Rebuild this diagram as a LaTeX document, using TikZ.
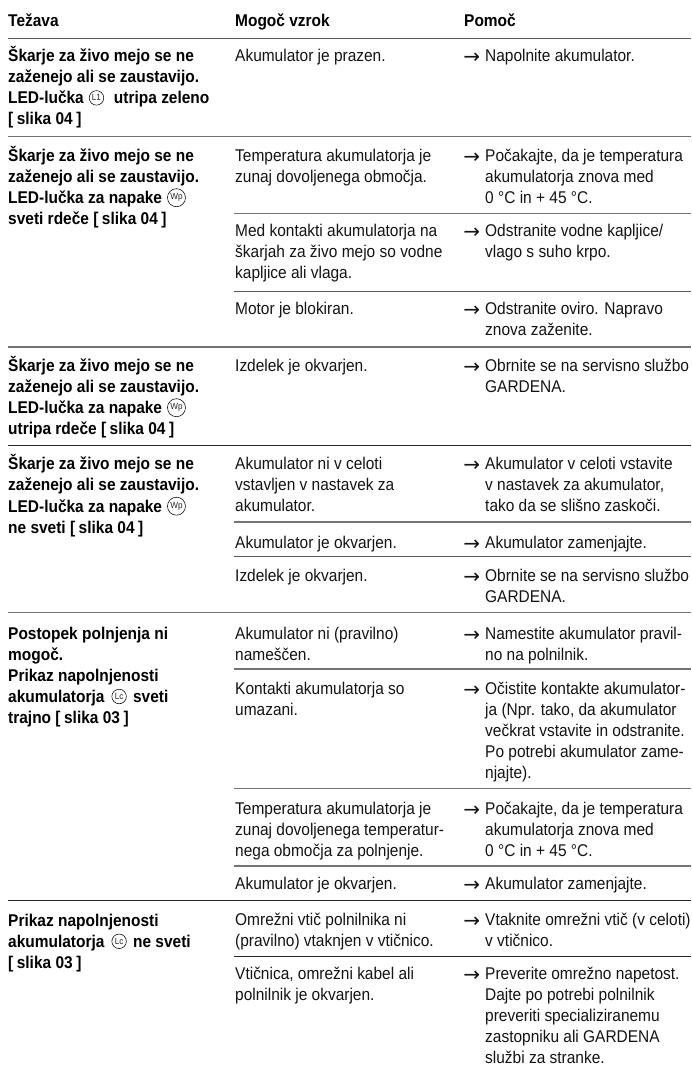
\documentclass[tikz,border=0pt]{standalone}
\usepackage{fontspec}
\setmainfont[FakeStretch=0.91]{Liberation Sans}
\newfontfamily\arrfont{DejaVu Sans}
\newcommand{\arr}{\leavevmode\llap{\raisebox{-2pt}{\arrfont\fontsize{20}{20}\selectfont→}\kern5pt}}
\newcommand{\tl}[1]{\begin{tabular}[t]{@{}l@{}}#1\end{tabular}}
\newcommand{\fig}[1]{{[}\kern3.5pt slika #1\kern3.5pt{]}}
\newcommand{\sym}[2][14.5pt]{\kern0.8pt\tikz[baseline=-5.8pt]\node[anchor=center,circle,draw=black,line width=0.55pt,inner sep=0pt,minimum size=#1,font=\fontsize{9}{9}\selectfont\mdseries,text=black!85]{#2};\kern0.5pt}
\tikzset{x=1pt,y=-1pt,
 cell/.style={anchor=base west,inner sep=0pt,text=black!92,
   font=\fontsize{17}{21.1}\selectfont},
 prob/.style={cell,text=black,font=\fontsize{17}{21.1}\selectfont\bfseries},
 head/.style={cell,text=black,font=\fontsize{17}{21.1}\selectfont\bfseries},
 ruledark/.style={line width=0.8pt,draw=black!85},
 rulemid/.style={line width=1pt,draw=black!65},
 rulegray/.style={line width=1.2pt,draw=black!55},
}
\begin{document}
\begin{tikzpicture}
\useasboundingbox[fill=white] (0,0) rectangle (691,1068);
% header
\node[head] (h1) at (8,27) {Težava};
\node[head] (h2) at (235,27) {Mogoč vzrok};
\node[head] (h3) at (464,27) {Pomoč};
% rules
\draw[rulemid] (8,38) -- (691,38);
\draw[rulegray] (8,136.5) -- (691,136.5);
\draw[rulegray] (234,213.5) -- (691,213.5);
\draw[rulemid] (234,291) -- (691,291);
\draw[rulegray] (8,347) -- (691,347);
\draw[ruledark] (8,445.5) -- (691,445.5);
\draw[rulegray] (234,522) -- (691,522);
\draw[rulemid] (234,556.5) -- (691,556.5);
\draw[rulegray] (8,612.5) -- (691,612.5);
\draw[rulegray] (234,669) -- (691,669);
\draw[rulegray] (234,788.5) -- (691,788.5);
\draw[rulegray] (234,866) -- (691,866);
\draw[ruledark] (8,900.5) -- (691,900.5);
\draw[ruledark] (234,956) -- (691,956);
% column 1
\node[prob] (p1) at (8,61.5) {\tl{Škarje za živo mejo se ne\\zaženejo ali se zaustavijo.\\LED-lučka \sym{L1}\kern9.5pt utripa zeleno\\\fig{04}}};
\node[prob] (p2) at (8,161) {\tl{Škarje za živo mejo se ne\\zaženejo ali se zaustavijo.\\LED-lučka za napake \sym[18pt]{Wp}\\sveti rdeče \fig{04}}};
\node[prob] (p3) at (8,371) {\tl{Škarje za živo mejo se ne\\zaženejo ali se zaustavijo.\\LED-lučka za napake \sym[18pt]{Wp}\\utripa rdeče \fig{04}}};
\node[prob] (p4) at (8,469.5) {\tl{Škarje za živo mejo se ne\\zaženejo ali se zaustavijo.\\LED-lučka za napake \sym[18pt]{Wp}\\ne sveti \fig{04}}};
\node[prob] (p5) at (8,639) {\tl{Postopek polnjenja ni\\mogoč.\\Prikaz napolnjenosti\\akumulatorja \kern2pt\sym{Lc}\kern6pt sveti\\trajno \fig{03}}};
\node[prob] (p6) at (8,926) {\tl{Prikaz napolnjenosti\\akumulatorja \kern2pt\sym{Lc}\kern6pt ne sveti\\\fig{03}}};
% column 2
\node[cell] (c1) at (235,61.5) {Akumulator je prazen.};
\node[cell] (c2) at (235,161) {\tl{Temperatura akumulatorja je\\zunaj dovoljenega območja.}};
\node[cell] (c3) at (235,236) {\tl{Med kontakti akumulatorja na\\škarjah za živo mejo so vodne\\kapljice ali vlaga.}};
\node[cell] (c4) at (235,314.5) {Motor je blokiran.};
\node[cell] (c5) at (235,371) {Izdelek je okvarjen.};
\node[cell] (c6) at (235,469.5) {\tl{Akumulator ni v celoti\\vstavljen v nastavek za\\akumulator.}};
\node[cell] (c7) at (235,548) {Akumulator je okvarjen.};
\node[cell] (c8) at (235,581) {Izdelek je okvarjen.};
\node[cell] (c9) at (235,639) {\tl{Akumulator ni (pravilno)\\nameščen.}};
\node[cell] (c10) at (235,694) {\tl{Kontakti akumulatorja so\\umazani.}};
\node[cell] (c11) at (235,814) {\tl{Temperatura akumulatorja je\\zunaj dovoljenega temperatur-\\nega območja za polnjenje.}};
\node[cell] (c12) at (235,889) {Akumulator je okvarjen.};
\node[cell] (c13) at (235,925) {\tl{Omrežni vtič polnilnika ni\\(pravilno) vtaknjen v vtičnico.}};
\node[cell] (c14) at (235,979) {\tl{Vtičnica, omrežni kabel ali\\polnilnik je okvarjen.}};
% column 3
\node[cell] (s1) at (485,61.5) {\arr Napolnite akumulator.};
\node[cell] (s2) at (485,161) {\tl{\arr Počakajte, da je temperatura\\akumulatorja znova med\\0 °C in + 45 °C.}};
\node[cell] (s3) at (485,236) {\tl{\arr Odstranite vodne kapljice/\\vlago s suho krpo.}};
\node[cell] (s4) at (485,314.5) {\tl{\arr Odstranite oviro. Napravo\\znova zaženite.}};
\node[cell] (s5) at (485,371) {\tl{\arr Obrnite se na servisno službo\\GARDENA.}};
\node[cell] (s6) at (485,469.5) {\tl{\arr Akumulator v celoti vstavite\\v nastavek za akumulator,\\tako da se slišno zaskoči.}};
\node[cell] (s7) at (485,548) {\arr Akumulator zamenjajte.};
\node[cell] (s8) at (485,581) {\tl{\arr Obrnite se na servisno službo\\GARDENA.}};
\node[cell] (s9) at (485,639) {\tl{\arr Namestite akumulator pravil-\\no na polnilnik.}};
\node[cell] (s10) at (485,694) {\tl{\arr Očistite kontakte akumulator-\\ja (Npr. tako, da akumulator\\večkrat vstavite in odstranite.\\Po potrebi akumulator zame-\\njajte).}};
\node[cell] (s11) at (485,814) {\tl{\arr Počakajte, da je temperatura\\akumulatorja znova med\\0 °C in + 45 °C.}};
\node[cell] (s12) at (485,889) {\arr Akumulator zamenjajte.};
\node[cell] (s13) at (485,925) {\tl{\arr Vtaknite omrežni vtič (v celoti)\\v vtičnico.}};
\node[cell] (s14) at (485,979) {\tl{\arr Preverite omrežno napetost.\\Dajte po potrebi polnilnik\\preveriti specializiranemu\\zastopniku ali GARDENA\\službi za stranke.}};
\end{tikzpicture}
\end{document}
